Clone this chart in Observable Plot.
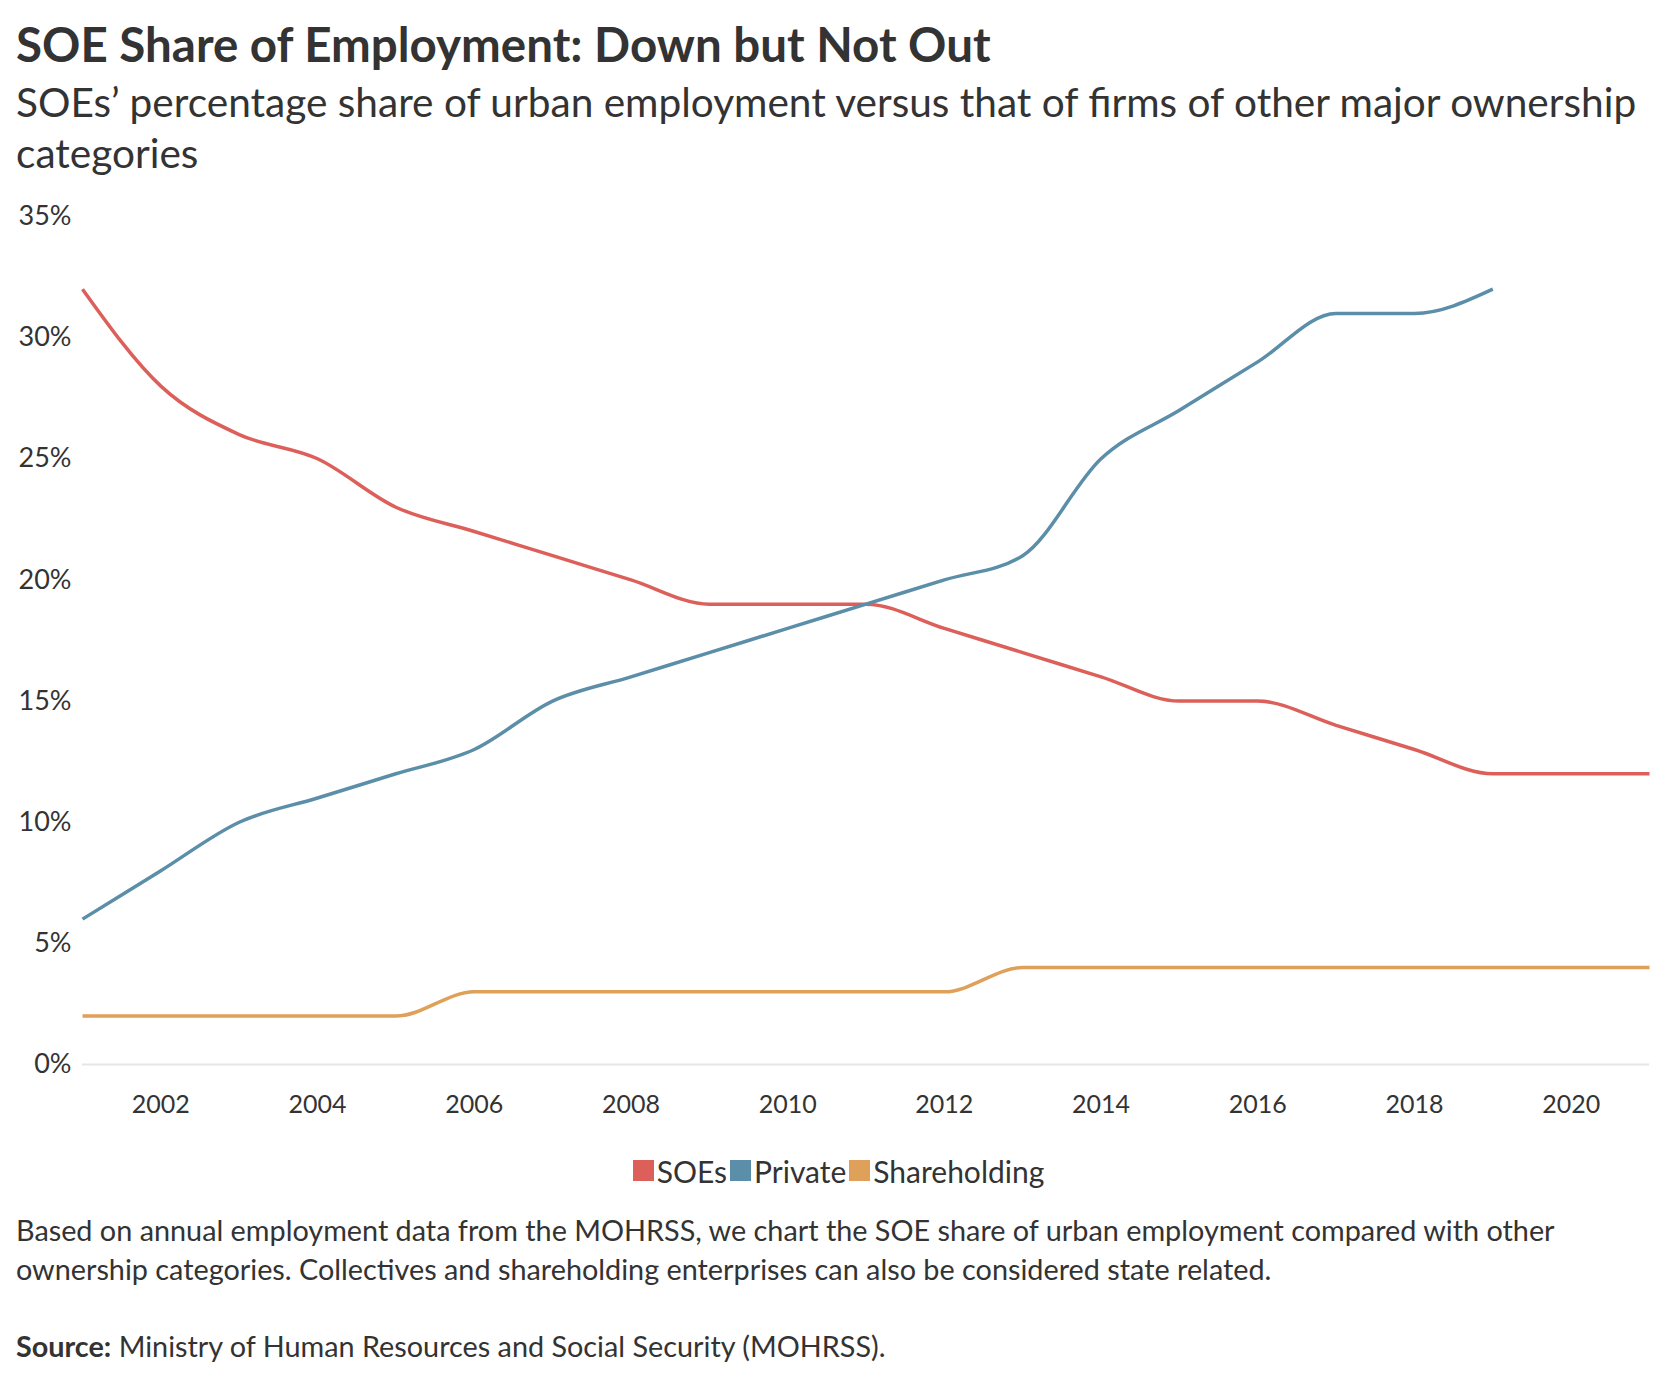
<!DOCTYPE html>
<html>
<head>
<meta charset="utf-8">
<script src="https://cdn.jsdelivr.net/npm/d3@7"></script>
<script src="https://cdn.jsdelivr.net/npm/@observablehq/plot@0.6"></script>
<style>
  html, body { margin: 0; padding: 0; background: #fff; }
  body { width: 1674px; font-family: "Source Sans Pro", Lato, "Noto Sans", sans-serif; color: #333; }
  #title { position: absolute; left: 16px; top: 15px; font-size: 47.5px; font-weight: 700; white-space: nowrap; color: #333; }
  #subtitle { position: absolute; left: 16px; top: 76px; font-size: 40.6px; line-height: 51px; white-space: nowrap; color: #333; }
  #chart { position: absolute; left: 0; top: 190px; }
  #legend { position: absolute; left: 0; width: 1674px; top: 1151px; text-align: center; font-size: 30px; white-space: nowrap; color: #333; }
  #legend .item { display: inline-flex; align-items: center; }
  #legend .sw { display: inline-block; width: 21px; height: 21px; margin-right: 3px; margin-left: 3px; }
  #caption { position: absolute; left: 16px; top: 1211px; font-size: 28.8px; line-height: 39px; white-space: nowrap; color: #333; }
  #source { position: absolute; left: 16px; top: 1329px; font-size: 28.8px; white-space: nowrap; color: #333; }
</style>
</head>
<body>
<div id="title">SOE Share of Employment: Down but Not Out</div>
<div id="subtitle">SOEs’ percentage share of urban employment versus that of firms of other major ownership<br>categories</div>
<div id="chart"></div>
<div id="legend"></div>
<div id="caption">Based on annual employment data from the MOHRSS, we chart the SOE share of urban employment compared with other<br>ownership categories. Collectives and shareholding enterprises can also be considered state related.</div>
<div id="source"><b>Source:</b> Ministry of Human Resources and Social Security (MOHRSS).</div>
<script>
const years = [2001,2002,2003,2004,2005,2006,2007,2008,2009,2010,2011,2012,2013,2014,2015,2016,2017,2018,2019,2020,2021];
const soes = [32,28,26,25,23,22,21,20,19,19,19,18,17,16,15,15,14,13,12,12,12];
const privateShare = [6,8,10,11,12,13,15,16,17,18,19,20,21,25,27,29,31,31,32,null,null];
const shareholding = [2,2,2,2,2,3,3,3,3,3,3,3,4,4,4,4,4,4,4,4,4];
const seriesNames = ["SOEs","Private","Shareholding"];
const seriesColors = ["#dc5f5a","#5b8ea9","#dfa05a"];
const yTicks = [0,5,10,15,20,25,30,35];
const xTicks = [2002,2004,2006,2008,2010,2012,2014,2016,2018,2020];

const seriesValues = [soes, privateShare, shareholding];
const data = [];
seriesNames.forEach((name, i) => {
  years.forEach((yr, j) => {
    const v = seriesValues[i][j];
    if (v != null) data.push({series: name, year: yr, value: v});
  });
});

const chart = Plot.plot({
  width: 1674,
  height: 934,
  marginLeft: 82,
  marginRight: 25,
  marginTop: 26,
  marginBottom: 60,
  style: {fontFamily: '"Source Sans Pro", Lato, "Noto Sans", sans-serif', fontSize: "25px", color: "#333", background: "#fff"},
  x: {domain: [2001, 2021], label: null},
  y: {domain: [0, 35], label: null},
  color: {domain: seriesNames, range: seriesColors},
  marks: [
    Plot.axisX({ticks: xTicks, tickFormat: d => String(d), tickSize: 0, tickPadding: 31, fontSize: 25, label: null}),
    Plot.axisY({ticks: yTicks, tickFormat: d => d + "%", tickSize: 0, tickPadding: 11, fontSize: 27, label: null}),
    Plot.ruleY([0], {stroke: "#e6e6e6", strokeWidth: 2}),
    Plot.line(data, {x: "year", y: "value", z: "series", stroke: "series", strokeWidth: 3.5, curve: "monotone-x", strokeLinecap: "butt"})
  ]
});
document.getElementById("chart").appendChild(chart);

const legend = document.getElementById("legend");
seriesNames.forEach((name, i) => {
  const item = document.createElement("span");
  item.className = "item";
  const sw = document.createElement("span");
  sw.className = "sw";
  sw.style.background = seriesColors[i];
  item.appendChild(sw);
  item.appendChild(document.createTextNode(name));
  legend.appendChild(item);
});
</script>
</body>
</html>
